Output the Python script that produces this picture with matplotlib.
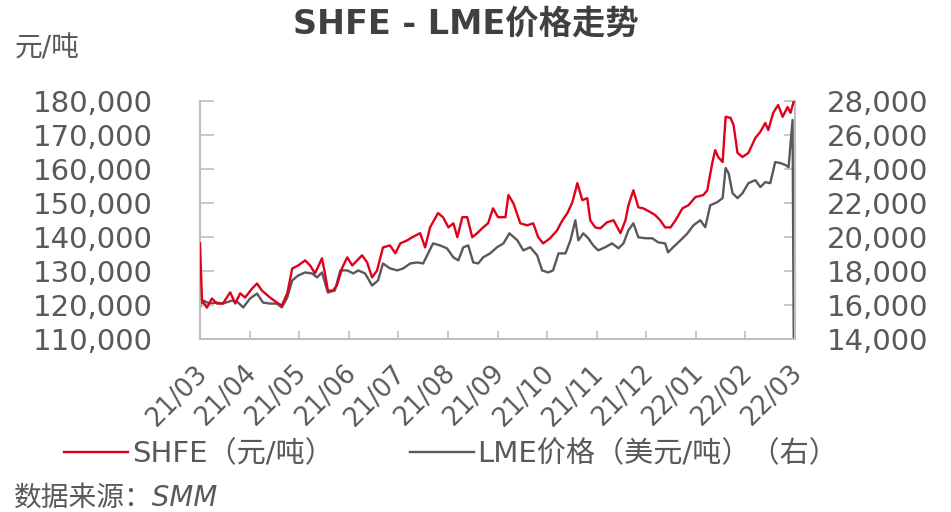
import matplotlib
matplotlib.use("Agg")
from matplotlib import pyplot as plt
from matplotlib.lines import Line2D
from matplotlib.ticker import FuncFormatter
import matplotlib.transforms as mtrans

plt.rcParams['font.family'] = ['DejaVu Sans', 'Noto Sans CJK SC']

# month labels (ticks at the start of each month)
months = ["21/03", "21/04", "21/05", "21/06", "21/07", "21/08", "21/09",
          "21/10", "21/11", "21/12", "22/01", "22/02", "22/03"]

# SHFE nickel, yuan/t (t = months since 2021-03-01)
shfe_t = [0.00, 0.04, 0.14, 0.24, 0.34, 0.46, 0.61, 0.71, 0.81, 0.91,
          1.05, 1.15, 1.25, 1.41, 1.55, 1.65, 1.76, 1.86, 1.98, 2.12,
          2.22, 2.32, 2.46, 2.52, 2.58, 2.68, 2.76, 2.87, 2.97, 3.07,
          3.17, 3.27, 3.37, 3.47, 3.57, 3.69, 3.83, 3.94, 4.04, 4.18,
          4.28, 4.44, 4.54, 4.64, 4.80, 4.90, 5.01, 5.11, 5.19, 5.29,
          5.39, 5.49, 5.59, 5.71, 5.81, 5.91, 6.01, 6.16, 6.22, 6.32,
          6.46, 6.60, 6.72, 6.82, 6.92, 7.06, 7.20, 7.31, 7.41, 7.51,
          7.61, 7.71, 7.81, 7.87, 7.97, 8.07, 8.21, 8.34, 8.48, 8.58,
          8.64, 8.74, 8.84, 8.94, 9.08, 9.18, 9.28, 9.38, 9.49, 9.59,
          9.73, 9.85, 9.99, 10.15, 10.23, 10.33, 10.39, 10.45, 10.54, 10.60,
          10.70, 10.76, 10.84, 10.94, 11.06, 11.20, 11.30, 11.40, 11.46, 11.56,
          11.66, 11.75, 11.85, 11.91, 11.97]
shfe = [138100, 121300, 119200, 121900, 120400, 120400, 123700, 120400, 123400, 122200,
        124800, 126300, 124200, 122200, 120700, 119800, 123400, 130700, 131600, 133100,
        131600, 129300, 133700, 129300, 124200, 124200, 125700, 131000, 134000, 131600,
        133100, 134600, 132500, 128100, 130100, 136900, 137500, 135200, 138100, 139000,
        139900, 141100, 136900, 142800, 147000, 145800, 142800, 144000, 139900, 145800,
        145800, 139900, 141100, 142800, 144000, 148400, 145800, 145800, 152300, 149900,
        144000, 143400, 144000, 139900, 138100, 139600, 141900, 144900, 147000, 150200,
        155800, 150800, 151400, 144900, 142800, 142500, 144300, 144900, 141100, 144900,
        149300, 153700, 148700, 148400, 147300, 146400, 144900, 142800, 142800, 144900,
        148400, 149300, 151700, 152300, 153700, 161700, 165500, 163500, 162000, 175300,
        175000, 172900, 164700, 163500, 164700, 169100, 170900, 173500, 171400, 176500,
        178800, 175300, 178200, 176500, 179700]

# LME nickel, USD/t (right axis)
lme_t = [0.00, 0.06, 0.20, 0.34, 0.46, 0.65, 0.77, 0.87, 1.01, 1.15,
         1.27, 1.41, 1.55, 1.65, 1.76, 1.86, 1.98, 2.12, 2.26, 2.36,
         2.46, 2.58, 2.72, 2.83, 2.97, 3.09, 3.19, 3.33, 3.47, 3.59,
         3.69, 3.83, 3.98, 4.10, 4.24, 4.38, 4.50, 4.60, 4.70, 4.84,
         4.98, 5.11, 5.21, 5.31, 5.41, 5.51, 5.61, 5.71, 5.85, 5.99,
         6.12, 6.24, 6.40, 6.52, 6.66, 6.80, 6.90, 7.02, 7.12, 7.23,
         7.37, 7.47, 7.57, 7.63, 7.73, 7.83, 7.93, 8.03, 8.17, 8.31,
         8.44, 8.54, 8.64, 8.74, 8.84, 8.98, 9.12, 9.24, 9.38, 9.44,
         9.54, 9.69, 9.83, 9.95, 10.09, 10.19, 10.29, 10.43, 10.54, 10.60,
         10.66, 10.74, 10.84, 10.94, 11.06, 11.20, 11.30, 11.40, 11.50, 11.60,
         11.71, 11.81, 11.87, 11.95, 12.00]
lme = [15850, 16260, 16080, 16140, 16080, 16260, 16140, 15850, 16380, 16670,
       16140, 16080, 16080, 15850, 16440, 17440, 17730, 17910, 17850, 17620,
       17910, 16730, 16850, 18030, 18030, 17850, 18030, 17850, 17140, 17440,
       18440, 18150, 18030, 18150, 18440, 18500, 18440, 19030, 19620, 19500,
       19330, 18800, 18620, 19390, 19500, 18500, 18440, 18800, 19030, 19390,
       19620, 20210, 19800, 19210, 19390, 18910, 18030, 17910, 18030, 19030,
       19030, 19800, 20980, 19800, 20210, 19920, 19500, 19210, 19390, 19620,
       19330, 19620, 20390, 20800, 19980, 19920, 19920, 19680, 19620, 19090,
       19390, 19800, 20210, 20680, 20980, 20570, 21860, 22040, 22280, 24050,
       23750, 22570, 22280, 22570, 23160, 23340, 22930, 23220, 23160, 24400,
       24340, 24220, 24100, 26880, 0]

txt = '#595959'
axis_c = '#bfbfbf'

fig = plt.figure(figsize=(9.51, 5.12), dpi=100, facecolor='white')
ax = fig.add_axes([0.2103, 0.338, 0.6257, 0.465])
ax2 = ax.twinx()

ax.plot(shfe_t, shfe, color='#e0001b', lw=1.7, zorder=3)
ax2.plot(lme_t, lme, color='#595959', lw=1.7)
ax.set_zorder(ax2.get_zorder() + 1)
ax.patch.set_visible(False)

ax.set_xlim(0, 12)
ax.set_ylim(110000, 180000)
ax2.set_ylim(14000, 28000)
ax.set_xticks(range(len(months)))
ax.set_xticklabels(months, rotation=45, ha='right', rotation_mode='anchor')
ax.set_yticks(range(110000, 180001, 10000))
ax2.set_yticks(range(14000, 28001, 2000))
fmt = FuncFormatter(lambda v, p: f'{int(v):,}')
ax.yaxis.set_major_formatter(fmt)
ax2.yaxis.set_major_formatter(fmt)

for a in (ax, ax2):
    for s in a.spines.values():
        s.set_color(axis_c)
        s.set_linewidth(1.5)
    a.spines['top'].set_visible(False)
ax.spines['right'].set_visible(False)
ax2.spines['left'].set_visible(False)
ax2.spines['bottom'].set_visible(False)

ax.tick_params(axis='y', direction='in', length=10, width=1.2, color=axis_c,
               labelsize=21, labelcolor=txt, pad=34)
ax.tick_params(axis='x', direction='in', length=6, width=1.2, color=axis_c,
               labelsize=18.5, labelcolor=txt, pad=6)
ax2.tick_params(axis='y', direction='in', length=8, width=1.2, color=axis_c,
                labelsize=21, labelcolor=txt, pad=23)
for lab in ax.get_xticklabels():
    lab.set_transform(lab.get_transform() +
                      mtrans.ScaledTranslation(-0.06, -0.13, fig.dpi_scale_trans))

fig.text(0.49, 0.953, 'SHFE - LME价格走势', ha='center', va='center',
         fontsize=24, fontweight='bold', color='#404040')
fig.text(0.015, 0.906, '元/吨', ha='left', va='center', fontsize=20, color=txt)

handles = [Line2D([], [], color='#e0001b', lw=1.7),
           Line2D([], [], color='#595959', lw=1.7)]
fig.legend(handles, ['SHFE（元/吨）', 'LME价格（美元/吨）（右）'],
           loc='center left', bbox_to_anchor=(0.04, 0.112), ncol=2,
           frameon=False, fontsize=21, labelcolor=txt, handlelength=2.2,
           handletextpad=0.12, columnspacing=2.6)
fig.text(0.015, 0.028, '数据来源：SMM', ha='left', va='center', fontsize=20,
         color=txt, style='italic')

fig.savefig('out.png', dpi=100)
